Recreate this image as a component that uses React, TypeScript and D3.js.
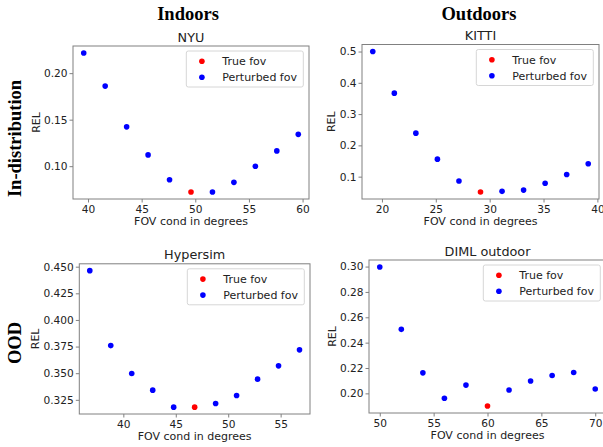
import { useRef, useEffect } from 'react';
import * as d3 from 'd3';

// ---- data ----
const nyuFov = [39.6, 41.6, 43.6, 45.6, 47.6, 49.6, 51.6, 53.6, 55.6, 57.6, 59.6];
const nyuRel = [0.2217, 0.1861, 0.1423, 0.1121, 0.0854, 0.0722, 0.0722, 0.0826, 0.1, 0.1164, 0.1342];
const nyuTrue = 5;

const kittiFov = [19.15, 21.15, 23.15, 25.15, 27.15, 29.15, 31.15, 33.15, 35.15, 37.15, 39.15];
const kittiRel = [0.5, 0.367, 0.239, 0.156, 0.086, 0.051, 0.053, 0.057, 0.079, 0.107, 0.141];
const kittiTrue = 5;

const hyperFov = [36.8, 38.8, 40.8, 42.8, 44.8, 46.8, 48.8, 50.8, 52.8, 54.8, 56.8];
const hyperRel = [0.4463, 0.3759, 0.3497, 0.3341, 0.3181, 0.3181, 0.3216, 0.3291, 0.3444, 0.3569, 0.3719];
const hyperTrue = 5;

const dimlFov = [50, 52, 54, 56, 58, 60, 62, 64, 66, 68, 70];
const dimlRel = [0.2997, 0.2505, 0.2162, 0.1961, 0.2065, 0.19, 0.2026, 0.2097, 0.2141, 0.2165, 0.2034];
const dimlTrue = 5;

const nyuXTicks = [40, 45, 50, 55, 60];
const nyuYTicks = [0.1, 0.15, 0.2];
const kittiXTicks = [20, 25, 30, 35, 40];
const kittiYTicks = [0.1, 0.2, 0.3, 0.4, 0.5];
const hyperXTicks = [40, 45, 50, 55];
const hyperYTicks = [0.325, 0.35, 0.375, 0.4, 0.425, 0.45];
const dimlXTicks = [50, 55, 60, 65, 70];
const dimlYTicks = [0.2, 0.22, 0.24, 0.26, 0.28, 0.3];

const legendLabels = ['True fov', 'Perturbed fov'];
const colTitles = ['Indoors', 'Outdoors'];
const rowTitles = ['In-distribution', 'OOD'];

interface PanelSpec {
  title: string;
  fov: number[];
  rel: number[];
  trueIdx: number;
  xTicks: number[];
  yTicks: number[];
  yFmt: string;
  box: { left: number; right: number; top: number; bottom: number };
}

const panels: PanelSpec[] = [
  { title: 'NYU', fov: nyuFov, rel: nyuRel, trueIdx: nyuTrue, xTicks: nyuXTicks, yTicks: nyuYTicks, yFmt: '.2f',
    box: { left: 73, right: 309, top: 46, bottom: 199 } },
  { title: 'KITTI', fov: kittiFov, rel: kittiRel, trueIdx: kittiTrue, xTicks: kittiXTicks, yTicks: kittiYTicks, yFmt: '.1f',
    box: { left: 362, right: 599, top: 44.5, bottom: 199 } },
  { title: 'Hypersim', fov: hyperFov, rel: hyperRel, trueIdx: hyperTrue, xTicks: hyperXTicks, yTicks: hyperYTicks, yFmt: '.3f',
    box: { left: 79.3, right: 310, top: 263.8, bottom: 414 } },
  { title: 'DIML outdoor', fov: dimlFov, rel: dimlRel, trueIdx: dimlTrue, xTicks: dimlXTicks, yTicks: dimlYTicks, yFmt: '.2f',
    box: { left: 369, right: 606, top: 260, bottom: 413 } },
];

const SANS = '"DejaVu Sans", sans-serif';
const SERIF = '"Liberation Serif", "Times New Roman", serif';
const TEXT = '#222';
const SPINE = '#808080';

function padded(vals: number[]): [number, number] {
  const [lo, hi] = d3.extent(vals) as [number, number];
  const m = (hi - lo) * 0.05;
  return [lo - m, hi + m];
}

export default function App() {
  const svgRef = useRef<SVGSVGElement>(null);

  useEffect(() => {
    if (!svgRef.current) return;
    const svg = d3.select(svgRef.current);
    svg.selectAll('*').remove();

    panels.forEach((p) => {
      const { left, right, top, bottom } = p.box;
      const x = d3.scaleLinear().domain(padded(p.fov)).range([left, right]);
      const y = d3.scaleLinear().domain(padded(p.rel)).range([bottom, top]);
      const g = svg.append('g');

      // frame
      g.append('rect')
        .attr('x', left)
        .attr('y', top)
        .attr('width', right - left)
        .attr('height', bottom - top)
        .attr('fill', 'none')
        .attr('stroke', SPINE)
        .attr('stroke-width', 1);

      // x axis
      const xa = g
        .append('g')
        .attr('transform', `translate(0,${bottom})`)
        .call(d3.axisBottom(x).tickValues(p.xTicks).tickSize(3.5).tickPadding(3).tickFormat(d3.format('d')));
      xa.select('.domain').remove();
      xa.selectAll('.tick line').attr('stroke', SPINE);
      xa.selectAll('text').attr('fill', TEXT).attr('font-size', '10.6px').attr('font-family', SANS);

      // y axis
      const ya = g
        .append('g')
        .attr('transform', `translate(${left},0)`)
        .call(d3.axisLeft(y).tickValues(p.yTicks).tickSize(3.5).tickPadding(2).tickFormat(d3.format(p.yFmt)));
      ya.select('.domain').remove();
      ya.selectAll('.tick line').attr('stroke', SPINE);
      ya.selectAll('text').attr('fill', TEXT).attr('font-size', '10.6px').attr('font-family', SANS);

      let maxW = 0;
      ya.selectAll<SVGTextElement, unknown>('text').each(function () {
        maxW = Math.max(maxW, this.getBBox().width);
      });

      // labels
      g.append('text')
        .attr('x', (left + Math.min(right, 603 + 3)) / 2)
        .attr('y', top - 4.5)
        .attr('text-anchor', 'middle')
        .attr('fill', TEXT)
        .attr('font-family', SANS)
        .attr('font-size', '12.8px')
        .text(p.title);

      g.append('text')
        .attr('x', (left + right) / 2)
        .attr('y', bottom + 26)
        .attr('text-anchor', 'middle')
        .attr('fill', TEXT)
        .attr('font-family', SANS)
        .attr('font-size', '11px')
        .text('FOV cond in degrees');

      g.append('text')
        .attr('transform', `translate(${left - 5.5 - maxW - 4},${(top + bottom) / 2}) rotate(-90)`)
        .attr('text-anchor', 'middle')
        .attr('fill', TEXT)
        .attr('font-family', SANS)
        .attr('font-size', '11px')
        .text('REL');

      // points
      p.fov.forEach((f, i) => {
        g.append('circle')
          .attr('cx', x(f))
          .attr('cy', y(p.rel[i]))
          .attr('r', 2.8)
          .attr('fill', i === p.trueIdx ? '#ff0000' : '#0000ff');
      });

      // legend
      const lw = 117;
      const lh = 36;
      const lx = right - 5.7 - lw;
      const ly = top + 5;
      const lg = g.append('g').attr('transform', `translate(${lx},${ly})`);
      lg.append('rect')
        .attr('width', lw)
        .attr('height', lh)
        .attr('rx', 2)
        .attr('fill', 'white')
        .attr('fill-opacity', 0.8)
        .attr('stroke', '#d6d6d6');
      legendLabels.forEach((lab, i) => {
        lg.append('circle')
          .attr('cx', 15.6)
          .attr('cy', 10.3 + i * 16)
          .attr('r', 2.8)
          .attr('fill', i === 0 ? '#ff0000' : '#0000ff');
        lg.append('text')
          .attr('x', 36)
          .attr('y', 14 + i * 16)
          .attr('fill', TEXT)
          .attr('font-family', SANS)
          .attr('font-size', '11px')
          .text(lab);
      });
    });

    // column and row headings
    const colX = [188, 479];
    colTitles.forEach((t, i) => {
      svg.append('text')
        .attr('x', colX[i])
        .attr('y', 20)
        .attr('text-anchor', 'middle')
        .attr('font-family', SERIF)
        .attr('font-weight', 'bold')
        .attr('font-size', '18.5px')
        .attr('fill', '#000')
        .text(t);
    });
    const rowY = [138.5, 343];
    rowTitles.forEach((t, i) => {
      svg.append('text')
        .attr('transform', `translate(20.5,${rowY[i]}) rotate(-90)`)
        .attr('text-anchor', 'middle')
        .attr('font-family', SERIF)
        .attr('font-weight', 'bold')
        .attr('font-size', '18.5px')
        .attr('fill', '#000')
        .text(t);
    });
  }, []);

  return (
    <svg
      ref={svgRef}
      width={603}
      height={447}
      style={{ position: 'absolute', left: 0, top: 0, background: 'white' }}
    />
  );
}
